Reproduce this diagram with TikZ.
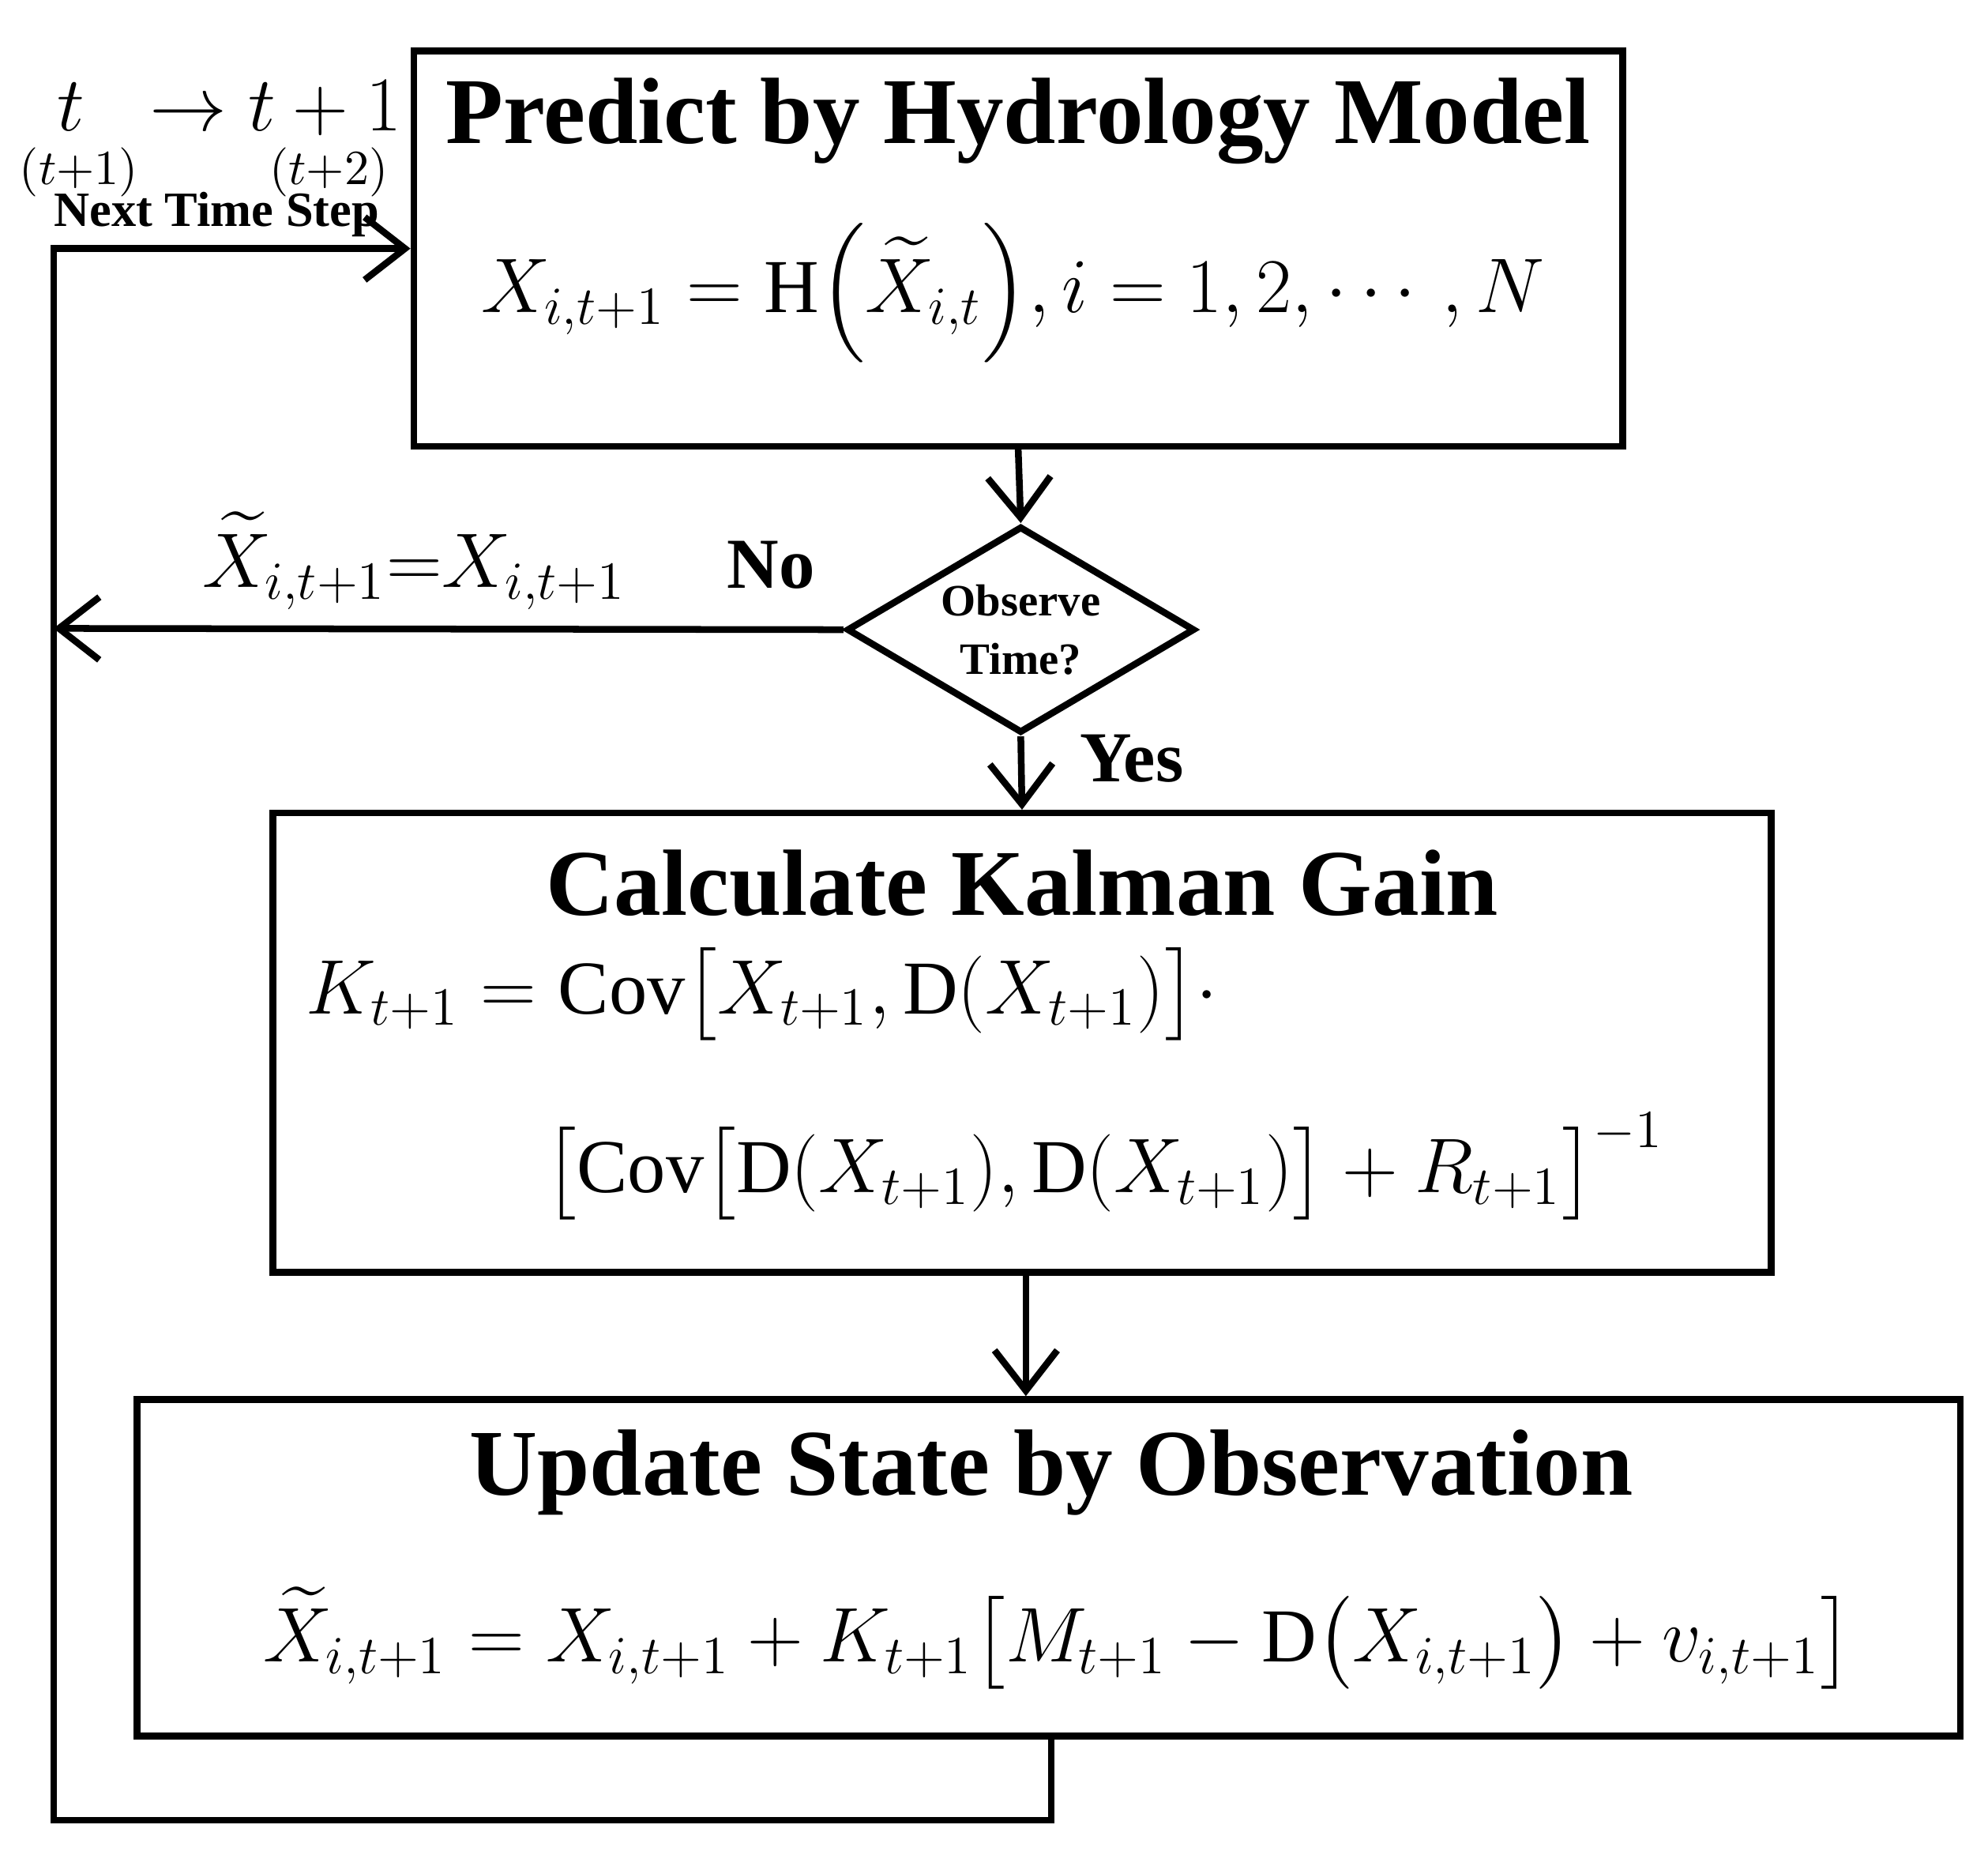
\documentclass[tikz,border=0pt]{standalone}
\usepackage{fontspec}
\setmainfont{Liberation Serif}
\usepackage{amsmath}
\usetikzlibrary{shapes.geometric,arrows.meta}
\begin{document}
\begin{tikzpicture}[x=0.01cm,y=-0.01cm,
  box/.style={draw,line width=1.5pt,inner sep=0pt},
  ln/.style={line width=1.5pt},
  arr/.style={ln,-{Straight Barb[length=9pt,width=14pt,line width=1.5pt]}},
  ttl/.style={font=\fontsize{21}{24}\selectfont\bfseries},
  eq/.style={font=\fontsize{17}{20}\selectfont}]
\useasboundingbox (0,0) rectangle (1560,1452);
\node[box,minimum width=9.48cm,minimum height=3.1cm] (b1) at (799,195) {};
\node[box,draw,diamond,minimum width=2.73cm,minimum height=1.62cm,inner sep=0pt] (d) at (801,494) {};
\node[box,minimum width=11.75cm,minimum height=3.6cm] (b2) at (802,818) {};
\node[box,minimum width=14.3cm,minimum height=2.64cm] (b3) at (823,1230) {};
\node[ttl] (t1) at (799,95) {Predict by Hydrology Model};
\node[eq] (e1) at (795,230) {$X_{i,t+1}=\mathrm{H}\Bigl(\widetilde{X}_{i,t}\Bigr),i=1,2,\cdots,N$};
\node[font=\fontsize{10}{11}\selectfont\bfseries,align=center] (dt) at (d) {Observe\\[2pt]Time?};
\node[ttl] (t2) at (802,693) {Calculate Kalman Gain};
\node[eq,anchor=west] (e2a) at (228,780) {$K_{t+1}=\mathrm{Cov}\bigl[X_{t+1},\mathrm{D}(X_{t+1})\bigr]\cdot$};
\node[eq,anchor=west] (e2b) at (415,915) {$\bigl[\mathrm{Cov}\bigl[\mathrm{D}(X_{t+1}),\mathrm{D}(X_{t+1})\bigr]+R_{t+1}\bigr]^{-1}$};
\node[ttl] (t3) at (825,1155) {Update State by Observation};
\node[eq] (e3) at (830,1285) {$\widetilde{X}_{i,t+1}=X_{i,t+1}+K_{t+1}\bigl[M_{t+1}-\mathrm{D}\bigl(X_{i,t+1}\bigr)+v_{i,t+1}\bigr]$};
\node[eq] (tt) at (180,85) {$t\;\;\rightarrow t+1$};
\node[font=\fontsize{11}{12}\selectfont] (p1) at (62,135) {$(t{+}1)$};
\node[font=\fontsize{11}{12}\selectfont] (p2) at (258,135) {$(t{+}2)$};
\node[font=\fontsize{11}{12}\selectfont\bfseries] (ns) at (170,168) {Next Time Step};
\node[eq] (xn) at (325,440) {$\widetilde{X}_{i,t+1}{=}X_{i,t+1}$};
\node[font=\fontsize{16}{18}\selectfont\bfseries] (no) at (605,443) {No};
\node[font=\fontsize{16}{18}\selectfont\bfseries,anchor=west] (yes) at (835,595) {Yes};
\coordinate (c1) at (825,1428);
\coordinate (c2) at (42,1428);
\coordinate (c3) at (42,195);
\coordinate (c4) at (42,493);
\coordinate (c5) at (805,998);
\draw[arr] (b1.south) -- (d.north);
\draw[arr] (d.south) -- (b2.north);
\draw[arr] (c5) -- (b3.north -| c5);
\draw[arr] (d.west) -- (c4);
\draw[arr] (b3.south -| c1) -- (c1) -- (c2) -- (c3) -- (b1.west |- c3);
\end{tikzpicture}
\end{document}
